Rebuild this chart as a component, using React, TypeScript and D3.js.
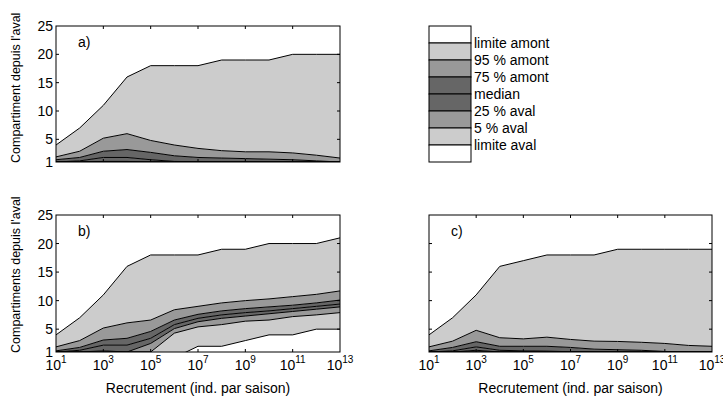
import React from 'react';
import * as d3 from 'd3';

// ---- data ----
const recrutement = [1e1, 1e2, 1e3, 1e4, 1e5, 1e6, 1e7, 1e8, 1e9, 1e10, 1e11, 1e12, 1e13];
const xTickValues = [1e1, 1e3, 1e5, 1e7, 1e9, 1e11, 1e13];
const xTickExponents = ['1', '3', '5', '7', '9', '11', '13'];
const yTickValues = [1, 5, 10, 15, 20, 25];
const yInnerTicks = [5, 10, 15, 20];

// panel a
const aLimiteAval = [1, 1, 1, 1, 1, 1, 1, 1, 1, 1, 1, 1, 1];
const a5Aval = [1, 1, 1, 1, 1, 1, 1, 1, 1, 1, 1, 1, 1];
const a25Aval = [1, 1, 1.1, 1.1, 1, 1, 1, 1, 1, 1, 1, 1, 1];
const aMedian = [1.0, 1.2, 1.8, 1.8, 1.4, 1.1, 1.05, 1, 1, 1, 1, 1, 1];
const a75Amont = [1.4, 1.8, 2.9, 3.2, 2.7, 2.1, 1.8, 1.7, 1.6, 1.5, 1.4, 1.2, 1.0];
const a95Amont = [1.9, 2.9, 5.2, 6.0, 4.8, 4.0, 3.4, 3.0, 2.8, 2.8, 2.6, 2.2, 1.7];
const aLimiteAmont = [4, 7, 11, 16, 18, 18, 18, 19, 19, 19, 20, 20, 20];

// panel b
const bLimiteAval = [1, 1, 1, 1, 1, 0, 2, 2, 3, 4, 4, 5, 5];
const b5Aval = [1, 1, 1, 1, 1, 4.3, 5.4, 5.8, 6.4, 6.6, 7.2, 7.5, 7.9];
const b25Aval = [1, 1, 1.2, 1.0, 2.5, 5.1, 6.3, 6.9, 7.3, 7.7, 8.1, 8.5, 8.9];
const bMedian = [1.0, 1.3, 2.2, 2.2, 3.4, 5.8, 6.9, 7.5, 7.9, 8.2, 8.6, 9.0, 9.4];
const b75Amont = [1.2, 1.8, 3.1, 3.4, 4.6, 6.6, 7.6, 8.2, 8.6, 8.9, 9.2, 9.6, 10.1];
const b95Amont = [1.9, 3.0, 5.2, 6.1, 6.6, 8.4, 9.0, 9.6, 10.0, 10.3, 10.7, 11.1, 11.7];
const bLimiteAmont = [4, 7, 11, 16, 18, 18, 18, 19, 19, 20, 20, 20, 21];

// panel c
const cLimiteAval = [1, 1, 1, 1, 1, 1, 1, 1, 1, 1, 1, 1, 1];
const c5Aval = [1, 1, 1, 1, 1, 1, 1, 1, 1, 1, 1, 1, 1];
const c25Aval = [1, 1, 1.3, 1, 1, 1, 1, 1, 1, 1, 1, 1, 1];
const cMedian = [1, 1.2, 1.9, 1.3, 1.2, 1.15, 1.05, 1, 1, 1, 1, 1, 1];
const c75Amont = [1.2, 1.8, 2.8, 2.0, 2.0, 2.0, 1.8, 1.5, 1.4, 1.3, 1.1, 1.0, 1.0];
const c95Amont = [1.9, 2.9, 4.8, 3.5, 3.3, 3.6, 3.2, 2.9, 2.85, 2.7, 2.5, 2.15, 2.0];
const cLimiteAmont = [4, 7, 11, 16, 17, 18, 18, 18, 19, 19, 19, 19, 19];

const bandColors = ['#cccccc', '#999999', '#666666', '#666666', '#999999', '#cccccc'];
const legendLabels = ['limite amont', '95 % amont', '75 % amont', 'median', '25 % aval', '5 % aval', 'limite aval'];
const legendColors = ['#ffffff', '#cccccc', '#999999', '#666666', '#666666', '#999999', '#cccccc', '#ffffff'];

const FONT = '"Liberation Sans", Arial, Helvetica, sans-serif';

type PanelProps = {
  id: string;
  left: number;
  top: number;
  width: number;
  height: number;
  series: number[][];
  tag: string;
  yLabel?: string;
  showXLabels: boolean;
  showYLabels: boolean;
};

function Panel({ id, left, top, width, height, series, tag, yLabel, showXLabels, showYLabels }: PanelProps) {
  const x = d3.scaleLog().domain([1e1, 1e13]).range([0, width]);
  const y = d3.scaleLinear().domain([1, 25]).range([height, 0]);
  const bands = bandColors.map((c, i) => {
    const lower = series[i];
    const upper = series[i + 1];
    const area = d3
      .area<number>()
      .x((d) => x(d))
      .y0((_d, k) => y(lower[k]))
      .y1((_d, k) => y(upper[k]));
    return <path key={'b' + i} d={area(recrutement) || ''} fill={c} stroke="none" />;
  });
  const lines = series.map((s, i) => {
    const line = d3
      .line<number>()
      .x((d) => x(d))
      .y((_d, k) => y(s[k]));
    return <path key={'l' + i} d={line(recrutement) || ''} fill="none" stroke="#000" strokeWidth={1} />;
  });
  const tl = 3;
  return (
    <g transform={`translate(${left},${top})`}>
      <defs>
        <clipPath id={id}>
          <rect x={0} y={0} width={width} height={height} />
        </clipPath>
      </defs>
      <g clipPath={`url(#${id})`}>
        {bands}
        {lines}
      </g>
      {xTickValues.slice(1, -1).map((t) => (
        <g key={'xt' + t}>
          <line x1={x(t)} x2={x(t)} y1={height} y2={height - tl} stroke="#000" />
          <line x1={x(t)} x2={x(t)} y1={0} y2={tl} stroke="#000" />
        </g>
      ))}
      {yInnerTicks.map((t) => (
        <g key={'yt' + t}>
          <line x1={0} x2={tl} y1={y(t)} y2={y(t)} stroke="#000" />
          <line x1={width} x2={width - tl} y1={y(t)} y2={y(t)} stroke="#000" />
        </g>
      ))}
      <rect x={0} y={0} width={width} height={height} fill="none" stroke="#000" strokeWidth={1} />
      <text x={22} y={21} fontFamily={FONT} fontSize={14} fill="#000">
        {tag}
      </text>
      {showYLabels &&
        yTickValues.map((t) => (
          <text key={'yl' + t} x={-3} y={y(t) + 5} textAnchor="end" fontFamily={FONT} fontSize={14} fill="#000">
            {t}
          </text>
        ))}
      {showXLabels &&
        xTickValues.map((t, i) => (
          <text key={'xl' + t} x={x(t)} y={height + 18} textAnchor="middle" fontFamily={FONT} fontSize={14} fill="#000">
            10
            <tspan fontSize={10} dy={-7}>
              {xTickExponents[i]}
            </tspan>
          </text>
        ))}
      {showXLabels && (
        <text x={width / 2} y={height + 41} textAnchor="middle" fontFamily={FONT} fontSize={14} fill="#000">
          Recrutement (ind. par saison)
        </text>
      )}
      {yLabel && (
        <text
          transform={`translate(${-36},${height + 1}) rotate(-90)`}
          textAnchor="start"
          fontFamily={FONT}
          fontSize={12.5}
          fill="#000"
        >
          {yLabel}
        </text>
      )}
    </g>
  );
}

function Legend({ left, top }: { left: number; top: number }) {
  const rowH = 17;
  const w = 42;
  return (
    <g transform={`translate(${left},${top})`}>
      {legendColors.map((c, i) => (
        <rect key={'r' + i} x={0} y={i * rowH} width={w} height={rowH} fill={c} stroke="#000" strokeWidth={1} />
      ))}
      {legendLabels.map((l, i) => (
        <text key={'t' + i} x={w + 3} y={(i + 1) * rowH + 5} fontFamily={FONT} fontSize={14} fill="#000">
          {l}
        </text>
      ))}
    </g>
  );
}

export default function App() {
  const aSeries = [aLimiteAval, a5Aval, a25Aval, aMedian, a75Amont, a95Amont, aLimiteAmont];
  const bSeries = [bLimiteAval, b5Aval, b25Aval, bMedian, b75Amont, b95Amont, bLimiteAmont];
  const cSeries = [cLimiteAval, c5Aval, c25Aval, cMedian, c75Amont, c95Amont, cLimiteAmont];
  return (
    <svg
      width={723}
      height={401}
      style={{ position: 'absolute', left: 0, top: 0, background: '#fff' }}
      shapeRendering="auto"
    >
      <rect x={0} y={0} width={723} height={401} fill="#fff" />
      <Panel id="clipA" left={56} top={26} width={284} height={136} series={aSeries} tag="a)"
        yLabel="Compartiment depuis l'aval" showXLabels={false} showYLabels={true} />
      <Panel id="clipB" left={56} top={215} width={284} height={137} series={bSeries} tag="b)"
        yLabel="Compartiments depuis l'aval" showXLabels={true} showYLabels={true} />
      <Panel id="clipC" left={429} top={215} width={283} height={137} series={cSeries} tag="c)"
        showXLabels={true} showYLabels={false} />
      <Legend left={429} top={26} />
    </svg>
  );
}
